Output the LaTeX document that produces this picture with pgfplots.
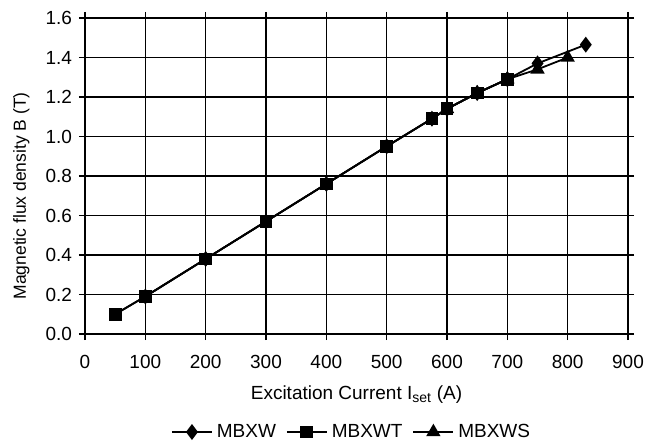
\documentclass[border=0pt]{standalone}
\usepackage{pgfplots}
\pgfplotsset{compat=1.18}
\usepackage{fontspec}
\setmainfont{Liberation Sans}
\begin{document}
\begin{tikzpicture}
% frame of the picture: the axis box sits at (0,0)--(543pt,316pt)
\useasboundingbox (-85pt,-108pt) rectangle (562pt,334pt);
\begin{axis}[
  width=543pt, height=316pt, scale only axis,
  at={(0,0)}, anchor=south west,
  xmin=0, xmax=900, ymin=0, ymax=1.6,
  xtick={0,100,...,900},
  ytick={0,0.2,...,1.6},
  yticklabel style={xshift=-3.5pt, /pgf/number format/.cd,fixed,fixed zerofill,precision=1},
  /pgf/number format/assume math mode=true,
  grid=major,
  grid style={black, line width=1.5pt},
  axis line style={line width=2.6pt},
  tick style={black, line width=1.5pt},
  tick align=outside,
  major tick length=6pt,
  tick label style={font=\fontsize{19}{21}\selectfont},
  xticklabel style={yshift=-12pt},
  every axis x label/.style={at={(axis description cs:0.5,-0.2057)}, anchor=base,
    font=\fontsize{19}{21}\selectfont},
  every axis y label/.style={at={(axis description cs:-0.1087,0.437)}, anchor=base,
    rotate=90, font=\fontsize{17.5}{19}\selectfont},
  xlabel={Excitation Current I\textsubscript{\fontsize{14}{15}\selectfont set} (A)},
  ylabel={Magnetic flux density B (T)},
  legend style={at={(0.49,-0.283)}, anchor=north, draw=none, legend columns=3,
    font=\fontsize{19}{21}\selectfont, inner sep=0pt,
    nodes={inner sep=1pt},
    /tikz/every odd column/.append style={column sep=3pt},
    /tikz/every even column/.append style={column sep=9pt}},
  legend image code/.code={%
    \draw[mark repeat=2,mark phase=2] plot coordinates {(0pt,0pt) (20pt,0pt) (40pt,0pt)};},
]
\addplot[black, line width=1.8pt, mark=diamond*, mark size=6.5pt] coordinates {
  (100,0.19) (200,0.38) (300,0.57) (400,0.76) (500,0.95) (575,1.09)
  (600,1.14) (650,1.22) (700,1.29) (750,1.37) (830,1.465)
};
\addplot[black, line width=1.8pt, mark=square*, mark size=5.5pt] coordinates {
  (50,0.10) (100,0.19) (200,0.38) (300,0.57) (400,0.76) (500,0.95)
  (575,1.09) (600,1.14) (650,1.22) (700,1.29)
};
\addplot[black, line width=1.8pt, mark=triangle*, mark size=6.5pt] coordinates {
  (600,1.14) (650,1.22) (700,1.29) (750,1.34) (800,1.40)
};
\addplot[black, line width=1.8pt, mark=square*, mark size=5.5pt, forget plot] coordinates {
  (50,0.10) (100,0.19) (200,0.38) (300,0.57) (400,0.76) (500,0.95)
  (575,1.09) (600,1.14) (650,1.22) (700,1.29)
};
\legend{MBXW,MBXWT,MBXWS}
\end{axis}
\end{tikzpicture}
\end{document}
